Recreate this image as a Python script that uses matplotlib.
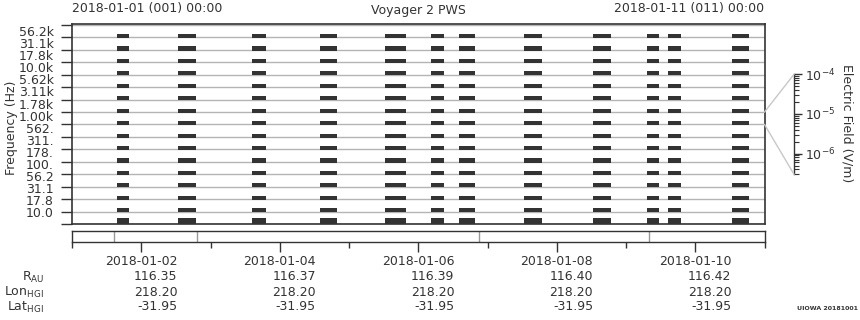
import matplotlib
matplotlib.use("Agg")
import matplotlib.pyplot as plt
from matplotlib.lines import Line2D
from matplotlib.transforms import blended_transform_factory
import numpy as np

# ---------------- data ----------------
freq_labels = ["10.0", "17.8", "31.1", "56.2", "100.", "178.", "311.", "562.",
               "1.00k", "1.78k", "3.11k", "5.62k", "10.0k", "17.8k", "31.1k", "56.2k"]
# observation intervals (hours since 2018-01-01 00:00)
obs_start = [15.6, 36.8, 62.4, 86.0, 108.6, 124.5, 134.2, 156.8, 180.7, 199.4, 206.7, 228.9]
obs_end = [19.8, 43.0, 67.3, 91.9, 115.8, 129.0, 139.8, 163.0, 186.9, 203.6, 210.9, 234.8]
# trace level above channel baseline (fraction of channel band)
channel_level = [0.45, 0.27, 0.27, 0.27, 0.27, 0.27, 0.27, 0.27,
                 0.27, 0.27, 0.27, 0.27, 0.27, 0.27, 0.27, 0.27]
# markers in the lower strip (hours)
strip_marks = [14.6, 43.4, 140.9, 199.8]
tick_dates = ["2018-01-02", "2018-01-04", "2018-01-06", "2018-01-08", "2018-01-10"]
tick_hours = [24, 72, 120, 168, 216]
r_au = ["116.35", "116.37", "116.39", "116.40", "116.42"]
lon_hgi = ["218.20", "218.20", "218.20", "218.20", "218.20"]
lat_hgi = ["-31.95", "-31.95", "-31.95", "-31.95", "-31.95"]

W, H = 860, 320
dark = "#333333"
grid = "#b4b4b4"
plt.rcParams['font.family'] = ['DejaVu Sans']
plt.rcParams['text.color'] = dark
plt.rcParams['axes.edgecolor'] = dark
plt.rcParams['xtick.color'] = dark
plt.rcParams['ytick.color'] = dark
plt.rcParams['xtick.labelcolor'] = dark
plt.rcParams['ytick.labelcolor'] = dark

fig = plt.figure(figsize=(W / 100, H / 100), dpi=100)

def fx(px):
    return px / W

def fy(py):
    return 1 - py / H

# ---------------- main spectrum panel ----------------
x0, x1 = 72, 764.5
ytop, ybot = 23.5, 224
ax = fig.add_axes([fx(x0), fy(ybot), fx(x1) - fx(x0), fy(ytop) - fy(ybot)])
binpx = 12.44
nch = len(freq_labels)
ax.set_xlim(0, 240)
ax.set_ylim(0, (ybot - ytop) / binpx)
for k in range(nch + 1):
    ax.axhline(k, color=grid, lw=1.0, zorder=1)
bars = [(s, e - s) for s, e in zip(obs_start, obs_end)]
for k in range(nch):
    lo = max(k - 0.06, 0)
    ax.broken_barh(bars, (lo, k + channel_level[k] - lo), facecolors=dark,
                   edgecolors='none', zorder=3)
ax.set_xticks([])
ax.set_yticks(np.linspace(0.94, 15.51, nch))
ax.set_yticklabels(freq_labels, fontsize=9)
ax.tick_params(axis='y', which='major', length=0, pad=13)
ax.set_yticks(np.arange(nch + 1), minor=True)
ax.tick_params(axis='y', which='minor', length=8, width=1, direction='out')
for sp in ax.spines.values():
    sp.set_linewidth(1.2)
fig.text(fx(12), fy(128), "Frequency (Hz)", rotation=90, ha='center', va='center', fontsize=9)

# ---------------- lower strip ----------------
sy0, sy1 = 231, 242
axs = fig.add_axes([fx(x0), fy(sy1), fx(x1) - fx(x0), fy(sy0) - fy(sy1)])
axs.set_xlim(0, 240)
axs.set_ylim(0, 1)
axs.set_yticks([])
for m in strip_marks:
    axs.axvline(m, color="#999999", lw=1.0)
axs.set_xticks(tick_hours)
axs.set_xticklabels([])
axs.set_xticks(np.arange(0, 241, 24)[::2], minor=True)
axs.tick_params(axis='x', which='major', length=7, width=1, direction='out')
axs.tick_params(axis='x', which='minor', length=4, width=1, direction='out')
for sp in axs.spines.values():
    sp.set_linewidth(1.0)

tr = blended_transform_factory(axs.transData, fig.transFigure)
for i, h in enumerate(tick_hours):
    fig.text(0, 0, "")
    axs.text(h, fy(261.7), tick_dates[i], transform=tr, ha='center', va='center', fontsize=9)
    # right edge of date label
    axs.text(h, fy(277), r_au[i], transform=tr, ha='center', va='center', fontsize=9,
             alpha=0)
rows = [r_au, lon_hgi, lat_hgi]
row_y = [277, 292, 307]
# right-aligned values at end of date label: compute once via renderer
fig.canvas.draw()
renderer = fig.canvas.get_renderer()
date_texts = [t for t in axs.texts if t.get_text() in tick_dates]
for t in list(axs.texts):
    if t.get_alpha() == 0:
        t.remove()
for i, t in enumerate(date_texts):
    bb = t.get_window_extent(renderer)
    xr = bb.x1 / W
    for row, yy in zip(rows, row_y):
        fig.text(xr, fy(yy), row[i], ha='right', va='center', fontsize=9)

fig.text(fx(44), fy(277), r"R$_{\mathregular{AU}}$", ha='right', va='center', fontsize=9)
fig.text(fx(44), fy(292), r"Lon$_{\mathregular{HGI}}$", ha='right', va='center', fontsize=9)
fig.text(fx(44), fy(307), r"Lat$_{\mathregular{HGI}}$", ha='right', va='center', fontsize=9)

# ---------------- electric field scale ----------------
ex = 794
ey0, ey1 = 74.3, 174.3
axe = fig.add_axes([fx(ex - 1), fy(ey1), fx(1), fy(ey0) - fy(ey1)])
axe.set_yscale('log')
axe.set_ylim(3e-7, 1e-4)
axe.set_xticks([])
for s in ['left', 'top', 'bottom']:
    axe.spines[s].set_visible(False)
axe.spines['right'].set_linewidth(1.0)
axe.patch.set_alpha(0)
axe.yaxis.tick_right()
axe.tick_params(axis='y', which='major', length=6, width=1, direction='out', labelsize=9, pad=2)
axe.tick_params(axis='y', which='minor', length=3.5, width=0.8, direction='out')
fig.text(fx(847), fy(123), "Electric Field (V/m)", rotation=270, ha='center', va='center', fontsize=9)

# connectors from the 1.00k channel to the scale
b_top = ybot - 9 * binpx
b_bot = ybot - 8 * binpx
fig.add_artist(Line2D([fx(x1), fx(ex)], [fy(b_top), fy(ey0)], color="#c8c8c8", lw=1.0))
fig.add_artist(Line2D([fx(x1), fx(ex)], [fy(b_bot), fy(ey1)], color="#c8c8c8", lw=1.0))

# ---------------- headers ----------------
fig.text(fx(72), fy(8.5), "2018-01-01 (001) 00:00", ha='left', va='center', fontsize=9)
fig.text(fx(418), fy(10.5), "Voyager 2 PWS", ha='center', va='center', fontsize=9)
fig.text(fx(764), fy(8.5), "2018-01-11 (011) 00:00", ha='right', va='center', fontsize=9)
fig.text(fx(858), fy(309), "UIOWA 20181001", ha='right', va='center', fontsize=4.5,
         fontweight='bold')

fig.savefig("out.png", dpi=100)
